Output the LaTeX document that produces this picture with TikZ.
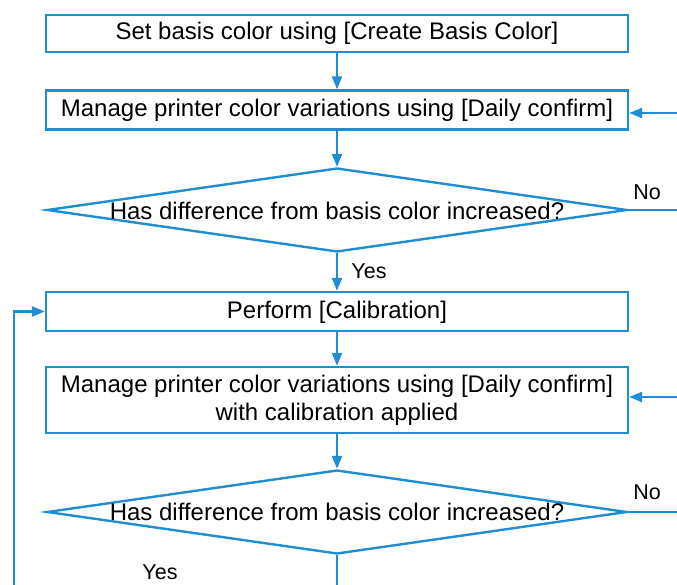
\documentclass[tikz,border=0pt]{standalone}
\usepackage{fontspec}
\setmainfont{Liberation Sans}
\usetikzlibrary{shapes.geometric,arrows.meta}
\definecolor{fblue}{HTML}{1E8DD4}
\begin{document}
\begin{tikzpicture}[x=1pt,y=-1pt,
  box/.style={draw=fblue,line width=2.4pt,minimum width=582pt,inner sep=0pt,align=center,font=\fontsize{24}{28}\selectfont},
  onebox/.style={box,text height=15pt,text depth=2pt},
  dec/.style={draw=fblue,line width=2.4pt,shape=diamond,minimum width=580pt,minimum height=84pt,inner sep=0pt},
  dtext/.style={font=\fontsize{24}{28}\selectfont,inner sep=0pt},
  arr/.style={draw=fblue,line width=2.4pt,-{Triangle[length=13pt,width=10pt]}},
  ln/.style={draw=fblue,line width=2.4pt},
  lbl/.style={font=\fontsize{21.5}{24}\selectfont,inner sep=0pt}]
\useasboundingbox (0,0) rectangle (677,585);
\node[onebox,minimum height=37pt] (b1) at (337,33.5) {Set basis color using [Create Basis Color]};
\node[onebox,minimum height=39pt] (b2) at (337,110) {Manage printer color variations using [Daily confirm]};
\node[dec] (d1) at (337,210) {};
\node[dtext] (t1) at (337,210.5) {Has difference from basis color increased?};
\node[onebox,minimum height=39pt] (b3) at (337,311.5) {Perform [Calibration]};
\node[box,minimum height=66pt] (b4) at (337,400) {Manage printer color variations using [Daily confirm]\\with calibration applied};
\node[dec] (d2) at (337,512) {};
\node[dtext] (t2) at (337,512) {Has difference from basis color increased?};
\coordinate (r1) at (680,113);
\coordinate (r2) at (680,210);
\coordinate (r3) at (680,397);
\coordinate (r4) at (680,512);
\coordinate (lb) at (14,590);
\coordinate (bb) at (337,590);
\draw[arr] (b1) -- (b2);
\draw[arr] (b2) -- (d1.north);
\draw[arr] (d1.south) -- (b3);
\draw[arr] (b3) -- (b4);
\draw[arr] (b4) -- (d2.north);
\draw[arr] (r1) -- (r1 -| b2.east);
\draw[arr] (r3) -- (r3 -| b4.east);
\draw[ln] (d1.east) -- (r2);
\draw[ln] (d2.east) -- (r4);
\draw[ln] (d2.south) -- (bb);
\draw[arr] (lb) |- (b3.west);
\node[lbl] (n1) at (647,192) {No};
\node[lbl] (n2) at (647,492) {No};
\node[lbl] (y1) at (369,271) {Yes};
\node[lbl] (y2) at (160,572) {Yes};
\end{tikzpicture}
\end{document}
